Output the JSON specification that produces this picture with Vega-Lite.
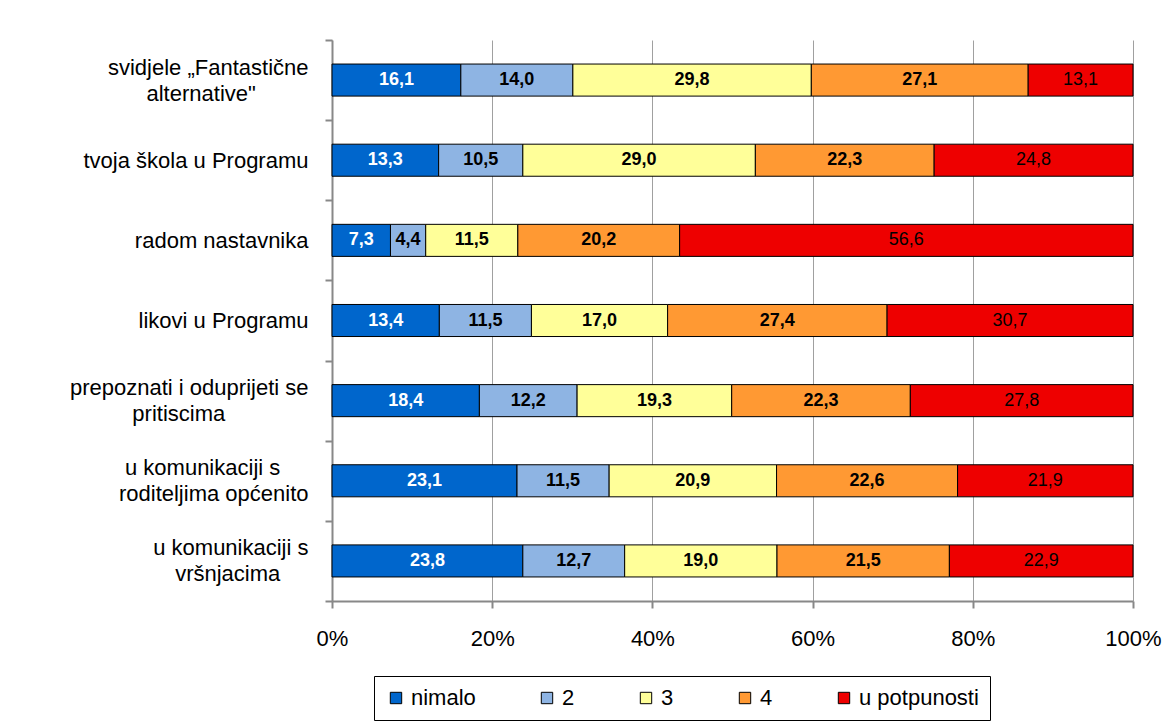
{
  "$schema": "https://vega.github.io/schema/vega-lite/v6.json",
  "width": 801,
  "height": 561,
  "autosize": {"type": "none"},
  "padding": {"left": 332, "top": 40, "right": 38, "bottom": 124},
  "background": "white",
  "config": {
    "locale": {"number": {"decimal": ",", "thousands": ".", "grouping": [3], "currency": ["", " €"]}},
    "view": {"stroke": null},
    "font": "Liberation Sans"
  },
  "data": {
    "values": [
      {"cat": "svidjele „Fantastične|alternative\"", "level": "nimalo", "ord": 1, "value": 16.1},
      {"cat": "svidjele „Fantastične|alternative\"", "level": "2", "ord": 2, "value": 14.0},
      {"cat": "svidjele „Fantastične|alternative\"", "level": "3", "ord": 3, "value": 29.8},
      {"cat": "svidjele „Fantastične|alternative\"", "level": "4", "ord": 4, "value": 27.1},
      {"cat": "svidjele „Fantastične|alternative\"", "level": "u potpunosti", "ord": 5, "value": 13.1},
      {"cat": "tvoja škola u Programu", "level": "nimalo", "ord": 1, "value": 13.3},
      {"cat": "tvoja škola u Programu", "level": "2", "ord": 2, "value": 10.5},
      {"cat": "tvoja škola u Programu", "level": "3", "ord": 3, "value": 29.0},
      {"cat": "tvoja škola u Programu", "level": "4", "ord": 4, "value": 22.3},
      {"cat": "tvoja škola u Programu", "level": "u potpunosti", "ord": 5, "value": 24.8},
      {"cat": "radom nastavnika", "level": "nimalo", "ord": 1, "value": 7.3},
      {"cat": "radom nastavnika", "level": "2", "ord": 2, "value": 4.4},
      {"cat": "radom nastavnika", "level": "3", "ord": 3, "value": 11.5},
      {"cat": "radom nastavnika", "level": "4", "ord": 4, "value": 20.2},
      {"cat": "radom nastavnika", "level": "u potpunosti", "ord": 5, "value": 56.6},
      {"cat": "likovi u Programu", "level": "nimalo", "ord": 1, "value": 13.4},
      {"cat": "likovi u Programu", "level": "2", "ord": 2, "value": 11.5},
      {"cat": "likovi u Programu", "level": "3", "ord": 3, "value": 17.0},
      {"cat": "likovi u Programu", "level": "4", "ord": 4, "value": 27.4},
      {"cat": "likovi u Programu", "level": "u potpunosti", "ord": 5, "value": 30.7},
      {"cat": "prepoznati i oduprijeti se|pritiscima", "level": "nimalo", "ord": 1, "value": 18.4},
      {"cat": "prepoznati i oduprijeti se|pritiscima", "level": "2", "ord": 2, "value": 12.2},
      {"cat": "prepoznati i oduprijeti se|pritiscima", "level": "3", "ord": 3, "value": 19.3},
      {"cat": "prepoznati i oduprijeti se|pritiscima", "level": "4", "ord": 4, "value": 22.3},
      {"cat": "prepoznati i oduprijeti se|pritiscima", "level": "u potpunosti", "ord": 5, "value": 27.8},
      {"cat": "u komunikaciji s|roditeljima općenito", "level": "nimalo", "ord": 1, "value": 23.1},
      {"cat": "u komunikaciji s|roditeljima općenito", "level": "2", "ord": 2, "value": 11.5},
      {"cat": "u komunikaciji s|roditeljima općenito", "level": "3", "ord": 3, "value": 20.9},
      {"cat": "u komunikaciji s|roditeljima općenito", "level": "4", "ord": 4, "value": 22.6},
      {"cat": "u komunikaciji s|roditeljima općenito", "level": "u potpunosti", "ord": 5, "value": 21.9},
      {"cat": "u komunikaciji s|vršnjacima", "level": "nimalo", "ord": 1, "value": 23.8},
      {"cat": "u komunikaciji s|vršnjacima", "level": "2", "ord": 2, "value": 12.7},
      {"cat": "u komunikaciji s|vršnjacima", "level": "3", "ord": 3, "value": 19.0},
      {"cat": "u komunikaciji s|vršnjacima", "level": "4", "ord": 4, "value": 21.5},
      {"cat": "u komunikaciji s|vršnjacima", "level": "u potpunosti", "ord": 5, "value": 22.9}
    ]
  },
  "transform": [
    {"stack": "value", "groupby": ["cat"], "sort": [{"field": "ord", "order": "ascending"}], "offset": "normalize", "as": ["x0", "x1"]},
    {"calculate": "(datum.x0 + datum.x1) / 2", "as": "xm"}
  ],
  "encoding": {
    "y": {
      "field": "cat",
      "type": "nominal",
      "sort": null,
      "scale": {"paddingInner": 0, "paddingOuter": 0},
      "axis": {
        "title": null,
        "labelExpr": "indexof(datum.label, '|') < 0 ? ['', datum.label] : indexof(datum.label, 'svidjele') >= 0 ? [split(datum.label, '|')[0], '\u2800', split(datum.label, '|')[1] + '\u00a0\u00a0\u00a0\u00a0\u00a0\u00a0\u2800'] : indexof(datum.label, 'prepoznati') >= 0 ? [split(datum.label, '|')[0], '\u2800', split(datum.label, '|')[1] + '\u00a0\u00a0\u00a0\u00a0\u00a0\u00a0\u00a0\u00a0\u00a0\u00a0\u00a0\u2800'] : indexof(datum.label, 'roditeljima') >= 0 ? [split(datum.label, '|')[0] + '\u00a0\u00a0\u2800', '\u2800', split(datum.label, '|')[1]] : [split(datum.label, '|')[0], '\u2800', split(datum.label, '|')[1] + '\u00a0\u00a0\u2800']",
        "labelFontSize": 22,
        "labelLineHeight": 13,
        "labelOffset": -13,
        "labelColor": "black",
        "labelLimit": 400,
        "labelPadding": 17,
        "tickBand": "extent",
        "tickSize": 7,
        "tickColor": "#888888",
        "tickWidth": 2,
        "domainColor": "#888888",
        "domainWidth": 2
      }
    }
  },
  "layer": [
    {
      "mark": {"type": "bar", "stroke": "black", "strokeWidth": 1, "height": {"band": 0.4}},
      "encoding": {
        "x": {
          "field": "x0",
          "type": "quantitative",
          "scale": {"domain": [0, 1]},
          "axis": {
            "title": null,
            "values": [0, 0.2, 0.4, 0.6, 0.8, 1],
            "format": "%",
            "grid": true,
            "gridColor": "#A0A0A0",
            "gridWidth": 1,
            "domainColor": "#888888",
            "domainWidth": 2,
            "tickColor": "#888888",
            "tickWidth": 2,
            "tickSize": 7,
            "labelFontSize": 22,
            "labelPadding": 20,
            "labelColor": "black",
            "labelFlush": false
          }
        },
        "x2": {"field": "x1"},
        "color": {
          "field": "level",
          "type": "nominal",
          "scale": {
            "domain": ["nimalo", "2", "3", "4", "u potpunosti"],
            "range": ["#0066CC", "#8EB4E3", "#FFFF99", "#FF9933", "#EE0000"]
          },
          "legend": {
            "orient": "none",
            "legendX": 42,
            "legendY": 636,
            "direction": "horizontal",
            "title": null,
            "strokeColor": "black",
            "fillColor": "white",
            "padding": 11,
            "labelFontSize": 22,
            "labelColor": "black",
            "labelOffset": 4,
            "symbolType": "square",
            "symbolSize": 130,
            "symbolStrokeColor": "black",
            "symbolStrokeWidth": 1,
            "symbolOpacity": 1,
            "columnPadding": 60
          }
        }
      }
    },
    {
      "transform": [{"filter": "datum.level != 'u potpunosti'"}],
      "mark": {"type": "text", "fontSize": 18, "fontWeight": "bold"},
      "encoding": {
        "x": {"field": "xm", "type": "quantitative"},
        "text": {"field": "value", "type": "quantitative", "format": ".1f"},
        "color": {"condition": {"test": "datum.level == 'nimalo'", "value": "white"}, "value": "black"}
      }
    },
    {
      "transform": [{"filter": "datum.level == 'u potpunosti'"}],
      "mark": {"type": "text", "fontSize": 18, "color": "black"},
      "encoding": {
        "x": {"field": "xm", "type": "quantitative"},
        "text": {"field": "value", "type": "quantitative", "format": ".1f"}
      }
    }
  ]
}
